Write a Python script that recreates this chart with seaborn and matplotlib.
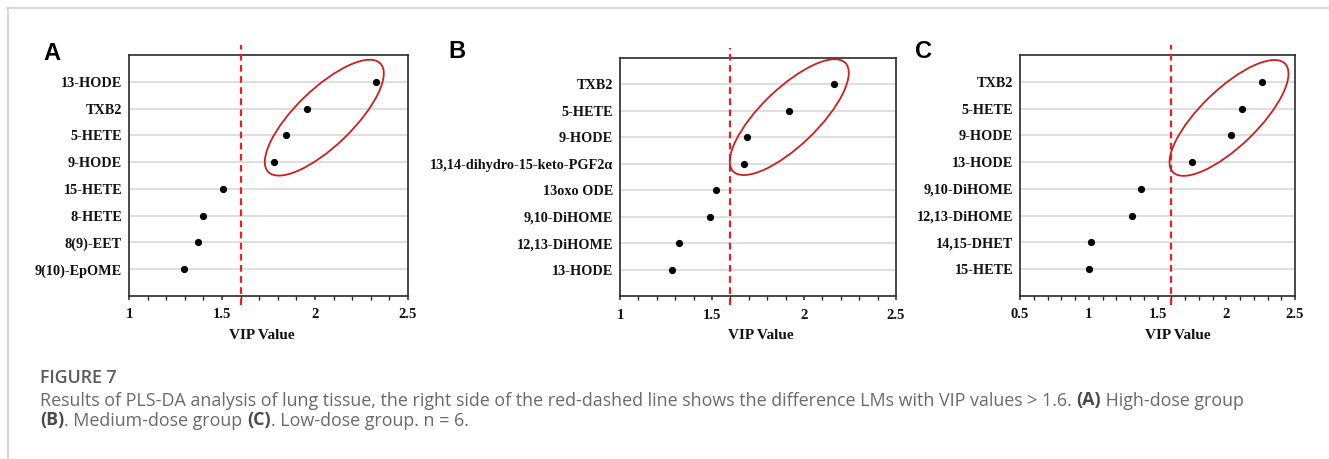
import numpy as np
import pandas as pd
import matplotlib
matplotlib.use("Agg")
import matplotlib.pyplot as plt
import seaborn as sns
from matplotlib.patches import Ellipse
from matplotlib.lines import Line2D
from matplotlib.ticker import MultipleLocator, FuncFormatter
import matplotlib.transforms as mtransforms

# ---------------- data ----------------
cats_a = ["13-HODE", "TXB2", "5-HETE", "9-HODE", "15-HETE", "8-HETE", "8(9)-EET", "9(10)-EpOME"]
vip_a = [2.33, 1.955, 1.842, 1.781, 1.504, 1.40, 1.373, 1.297]

cats_b = ["TXB2", "5-HETE", "9-HODE", "13,14-dihydro-15-keto-PGF2α", "13oxo ODE",
          "9,10-DiHOME", "12,13-DiHOME", "13-HODE"]
vip_b = [2.165, 1.918, 1.688, 1.674, 1.523, 1.489, 1.319, 1.284]

cats_c = ["TXB2", "5-HETE", "9-HODE", "13-HODE", "9,10-DiHOME", "12,13-DiHOME",
          "14,15-DHET", "15-HETE"]
vip_c = [2.262, 2.112, 2.035, 1.753, 1.382, 1.312, 1.014, 1.004]

panel_letters = ["A", "B", "C"]
xlims = [(1.0, 2.5), (1.0, 2.5), (0.5, 2.5)]
threshold = 1.6
ellipse_centers = [(2.05, 1.34), (1.92, 1.24), (2.02, 1.35)]

xlabel = "VIP Value"
caption_title = "FIGURE 7"
caption_line1 = [("Results of PLS-DA analysis of lung tissue, the right side of the red-dashed line shows the difference LMs with VIP values > 1.6. ", False),
                 ("(A)", True), (" High-dose group", False)]
caption_line2 = [("(B)", True), (". Medium-dose group ", False), ("(C)", True), (". Low-dose group. n = 6.", False)]

# ---------------- figure ----------------
W, H = 1329, 459
DPI = 100
sns.set_theme(style="white")
plt.rcParams["font.family"] = ["Liberation Serif", "DejaVu Serif"]

fig = plt.figure(figsize=(W / DPI, H / DPI), dpi=DPI)
fig.patch.set_facecolor("white")

def px_axes(left, right, top, bottom):
    return [left / W, 1 - bottom / H, (right - left) / W, (bottom - top) / H]

boxes = [px_axes(129, 408, 55, 296), px_axes(620, 896, 57.8, 296.2), px_axes(1020, 1295, 55, 296)]
xlabel_x = [0.476, 0.511, 0.575]
letter_pos = [(52, 53), (457, 52), (923, 52)]

datasets = [(cats_a, vip_a), (cats_b, vip_b), (cats_c, vip_c)]

for i, ((cats, vals), box) in enumerate(zip(datasets, boxes)):
    ax = fig.add_axes(box)
    df = pd.DataFrame({"cat": cats, "vip": vals})
    sns.stripplot(data=df, x="vip", y="cat", order=cats, orient="h", jitter=False,
                  color="black", size=5.2, linewidth=0, ax=ax, zorder=5)
    ax.set_ylim(len(cats), -1)
    ax.set_xlim(*xlims[i])
    ax.xaxis.set_major_locator(MultipleLocator(0.5))
    ax.xaxis.set_minor_locator(MultipleLocator(0.1))
    ax.xaxis.set_major_formatter(FuncFormatter(lambda v, p: f"{v:g}"))
    ax.set_axisbelow(True)
    ax.grid(axis="y", color="#dcdcdc", lw=1.3)
    ax.grid(axis="x", visible=False)
    for s in ax.spines.values():
        s.set_color("#2a2a2a")
        s.set_linewidth(1.2)
        s.set_visible(True)
    ax.tick_params(axis="x", which="major", direction="out", length=3, width=1.1,
                   color="#2a2a2a", pad=6, labelsize=10.5, bottom=True)
    ax.tick_params(axis="x", which="minor", direction="out", length=3, width=1.0,
                   color="#2a2a2a", bottom=True)
    ax.tick_params(axis="y", length=0, pad=5, labelsize=10.3)
    for lab in ax.get_xticklabels() + ax.get_yticklabels():
        lab.set_fontweight("bold")
        lab.set_color("#111111")
    ax.set_ylabel("")
    ax.set_xlabel("")
    ax.text(xlabel_x[i], -0.165, xlabel, transform=ax.transAxes, ha="center", va="center",
            fontsize=11, fontweight="bold", color="#111111")
    # threshold line
    ax.axvline(threshold, ymin=-0.038, ymax=1.042, color="#ee1c25", lw=1.6,
               linestyle=(0, (3, 2)), clip_on=False, zorder=6)
    # ellipse around significant points
    cx, cy = ellipse_centers[i]
    tr = fig.dpi_scale_trans + mtransforms.ScaledTranslation(cx, cy, ax.transData)
    ell = Ellipse((0, 0), 1.56, 0.57, angle=44, transform=tr, fill=False,
                  edgecolor="#cc1f1f", lw=1.3, zorder=7)
    ax.add_patch(ell)
    # panel letter
    lx, ly = letter_pos[i]
    fig.text(lx / W, 1 - ly / H, panel_letters[i], ha="center", va="center",
             fontsize=17, fontweight="bold", family=["Liberation Sans", "DejaVu Sans"], color="black")

# frame lines
fig.add_artist(Line2D([7 / W, 1.0], [1 - 7.5 / H, 1 - 7.5 / H], color="#cfcfcf", lw=1.2))
fig.add_artist(Line2D([7.5 / W, 7.5 / W], [0, 1 - 7.5 / H], color="#cfcfcf", lw=1.2))

# caption
cap_font = ["Open Sans", "DejaVu Sans"]
fig.text(40 / W, 1 - 378 / H, caption_title, ha="left", va="center", fontsize=12.8,
         fontweight="semibold", family=cap_font, color="#5a5a5a")

renderer = fig.canvas.get_renderer()

def rich_line(parts, x0, yc, size):
    x = x0
    texts = []
    for txt, bold in parts:
        t = fig.text(x / W, 1 - yc / H, txt, ha="left", va="center", fontsize=size,
                     fontweight="bold" if bold else "normal", family=cap_font,
                     color="#4a4a4a" if bold else "#6a6a6a")
        bb = t.get_window_extent(renderer=renderer)
        x += bb.width
        texts.append(t)
    return texts, x - x0

# fit the first caption line to the reference width
probe, wid = rich_line(caption_line1, 40, 400, 11)
for t in probe:
    t.remove()
cap_size = 11 * 1214 / wid
rich_line(caption_line1, 40, 400.5, cap_size)
rich_line(caption_line2, 40, 420.5, cap_size)

fig.savefig("out.png", dpi=DPI)
